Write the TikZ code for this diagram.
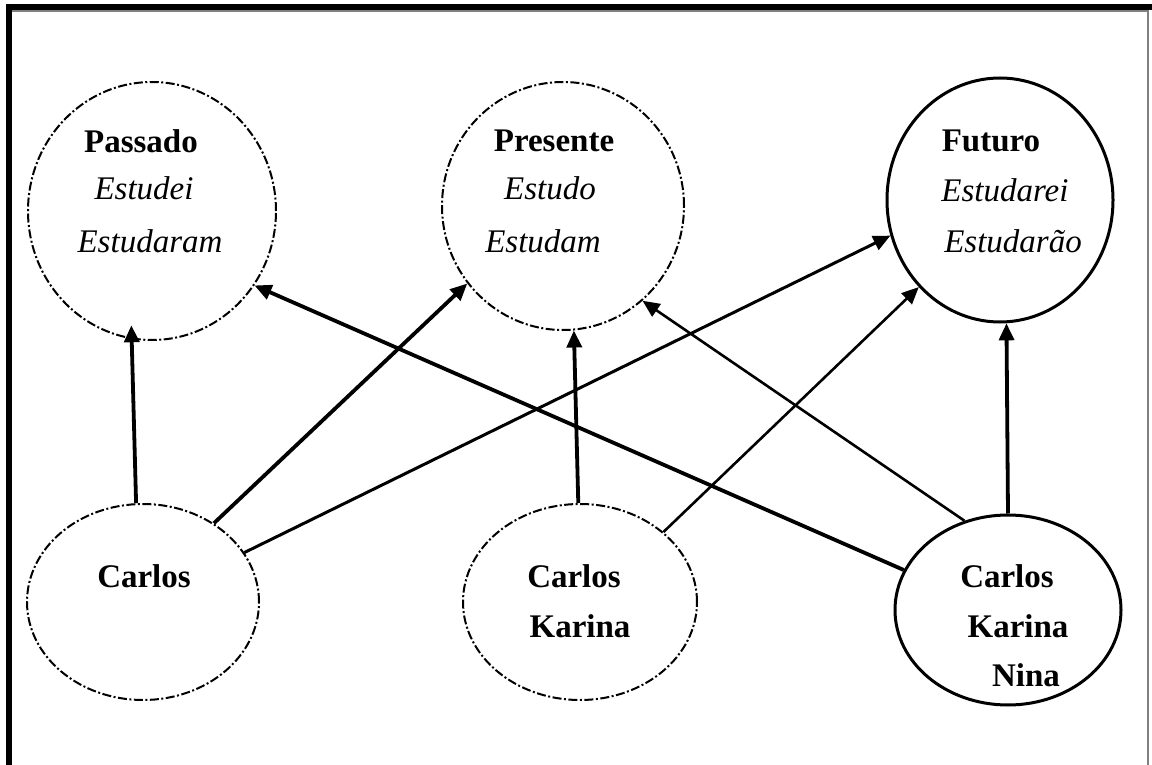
\documentclass[tikz,border=0pt]{standalone}
\usepackage{fontspec}
\setmainfont{Liberation Serif}
\usetikzlibrary{shapes.geometric,arrows.meta}
\begin{document}
\begin{tikzpicture}[x=1pt,y=-1pt,
  dashell/.style={ellipse, draw, line width=2pt, dash pattern=on 9pt off 2.5pt on 2pt off 2.5pt, inner sep=0pt},
  solidell/.style={ellipse, draw, line width=3pt, inner sep=0pt},
  blbl/.style={anchor=base, font=\fontsize{33}{36}\selectfont\bfseries, inner sep=0pt},
  ilbl/.style={anchor=base, font=\fontsize{33}{36}\selectfont\itshape, inner sep=0pt},
  arrbold/.style={line width=3.8pt, -{Triangle[length=17pt,width=15pt]}},
  arrmid/.style={line width=3pt, -{Triangle[length=17pt,width=15pt]}},
  arrthin/.style={line width=2.6pt, -{Triangle[length=17pt,width=15pt]}}]
\useasboundingbox (0,0) rectangle (1152,765);
% frame
\draw[line width=6pt] (9,765) -- (9,7) -- (1152,7);
\draw[gray, line width=1.2pt] (12,11) -- (1148,11) -- (1148,765);
% ellipses
\node[dashell, minimum width=248pt, minimum height=258pt] (pas) at (152,211) {};
\node[dashell, minimum width=242pt, minimum height=248pt] (pre) at (563,206) {};
\node[solidell, minimum width=226pt, minimum height=244pt] (fut) at (1000,200) {};
\node[dashell, minimum width=232pt, minimum height=196pt] (c) at (143,602) {};
\node[dashell, minimum width=234pt, minimum height=196pt] (ck) at (580,602) {};
\node[solidell, minimum width=226pt, minimum height=190pt] (ckn) at (1008,610) {};
% texts
\node[blbl] (t1) at (141,153) {Passado};
\node[ilbl] (t2) at (144,200) {Estudei};
\node[ilbl] (t3) at (150,252) {Estudaram};
\node[blbl] (t4) at (554,152) {Presente};
\node[ilbl] (t5) at (550,200) {Estudo};
\node[ilbl] (t6) at (543,252) {Estudam};
\node[blbl] (t7) at (991,152) {Futuro};
\node[ilbl] (t8) at (1005,202) {Estudarei};
\node[ilbl] (t9) at (1013,252) {Estudarão};
\node[blbl] (t10) at (144,587) {Carlos};
\node[blbl] (t11) at (574,587) {Carlos};
\node[blbl] (t12) at (580,637) {Karina};
\node[blbl] (t13) at (1007,587) {Carlos};
\node[blbl] (t14) at (1018,637) {Karina};
\node[blbl] (t15) at (1026,686) {Nina};
% arrows
\draw[arrbold, shorten >=-14pt] (c.94.1) -- (pas.261.8);
\draw[arrbold] (c.48.8) -- (pre.219.4);
\draw[arrmid] (c.26.8) -- (fut.198.7);
\draw[arrbold] (ck.91.2) -- (pre.275.3);
\draw[arrthin] (ck.40.1) -- (fut.227.4);
\draw[arrbold] (ckn.159.1) -- (pas.324.9);
\draw[arrthin] (ckn.116.0) -- (pre.310.0);
\draw[arrbold] (ckn.90) -- (fut.273.7);
\end{tikzpicture}
\end{document}
